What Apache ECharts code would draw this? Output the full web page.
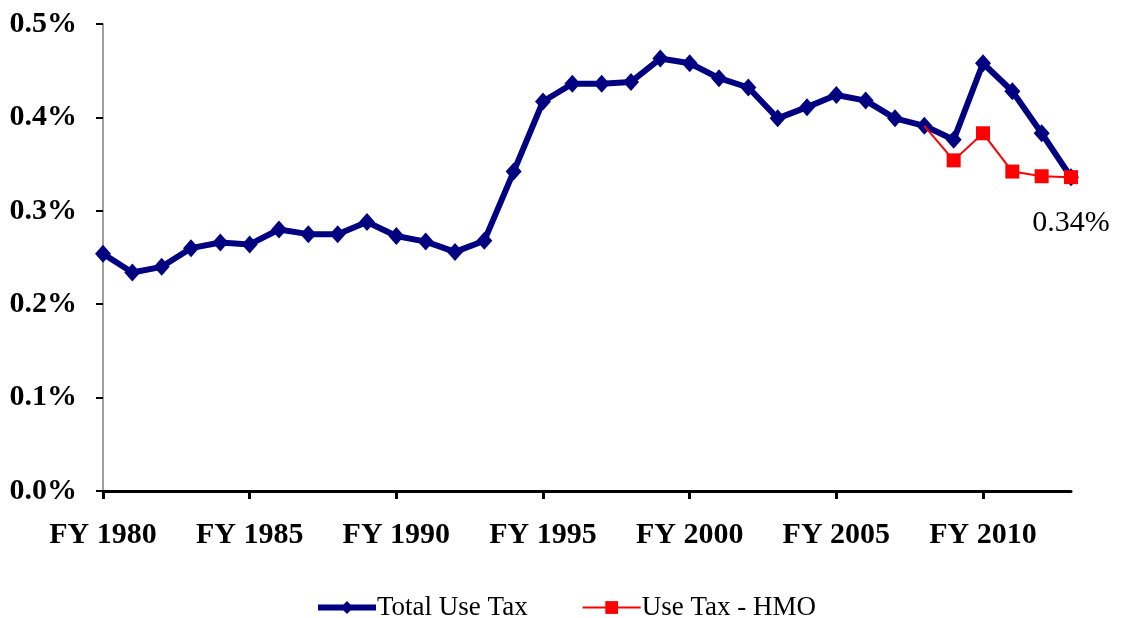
<!DOCTYPE html>
<html>
<head>
<meta charset="utf-8">
<script src="https://cdn.jsdelivr.net/npm/echarts@6/dist/echarts.min.js"></script>
<style>
  html, body { margin: 0; padding: 0; background: #fff; }
  #chart { width: 1123px; height: 618px; }
</style>
</head>
<body>
<div id="chart"></div>
<script>
// fiscal years FY 1980 .. FY 2013
const years = ['FY 1980', 'FY 1981', 'FY 1982', 'FY 1983', 'FY 1984', 'FY 1985', 'FY 1986', 'FY 1987',
  'FY 1988', 'FY 1989', 'FY 1990', 'FY 1991', 'FY 1992', 'FY 1993', 'FY 1994', 'FY 1995', 'FY 1996',
  'FY 1997', 'FY 1998', 'FY 1999', 'FY 2000', 'FY 2001', 'FY 2002', 'FY 2003', 'FY 2004', 'FY 2005',
  'FY 2006', 'FY 2007', 'FY 2008', 'FY 2009', 'FY 2010', 'FY 2011', 'FY 2012', 'FY 2013']

// values in percent
const totalUseTax = [0.254, 0.234, 0.240, 0.260, 0.266, 0.264, 0.280, 0.275, 0.275, 0.288, 0.273, 0.267,
  0.256, 0.268, 0.342, 0.417, 0.436, 0.436, 0.438, 0.463, 0.458, 0.442, 0.432, 0.399, 0.411, 0.424,
  0.418, 0.399, 0.391, 0.376, 0.458, 0.428, 0.383, 0.336]

// HMO line starts from FY 2008 total
const hmoYears = ['FY 2008', 'FY 2009', 'FY 2010', 'FY 2011', 'FY 2012', 'FY 2013']
const hmoUseTax = [0.391, 0.354, 0.383, 0.342, 0.337, 0.336]

const yTicks = [0, 0.1, 0.2, 0.3, 0.4, 0.5]
const endLabel = '0.34%'

const hmoData = years.map(function(y) {
  const i = hmoYears.indexOf(y)
  if (i < 0) return null
  if (i === 0) return { value: hmoUseTax[i], symbol: 'none' }
  if (i === hmoYears.length - 1) {
    return {
      value: hmoUseTax[i],
      label: {
        show: true,
        position: 'bottom',
        distance: 24,
        formatter: endLabel,
        color: '#000',
        fontFamily: 'Liberation Serif',
        fontSize: 30
      }
    }
  }
  return hmoUseTax[i]
})

const chart = echarts.init(document.getElementById('chart'))
const option = {
  animation: false,
  backgroundColor: '#fff',
  grid: {
    left: 103,
    right: 52,
    top: 24,
    bottom: 127,
    containLabel: false
  },
  legend: {
    left: 310,
    top: 589,
    itemWidth: 58,
    itemHeight: 16,
    itemGap: 54,
    textStyle: {
      fontFamily: 'Liberation Serif',
      fontSize: 27,
      color: '#000',
      padding: [0, 0, 0, -4]
    },
    data: [
      { name: 'Total Use Tax', lineStyle: { width: 6 } },
      { name: 'Use Tax - HMO', lineStyle: { width: 2 } }
    ]
  },
  xAxis: {
    type: 'category',
    data: years,
    boundaryGap: false,
    axisLine: {
      show: true,
      lineStyle: { color: '#000', width: 3 }
    },
    axisTick: {
      show: true,
      interval: 4,
      length: 8,
      lineStyle: { color: '#000', width: 3 }
    },
    axisLabel: {
      interval: 4,
      margin: 29,
      color: '#000',
      fontFamily: 'Liberation Serif',
      fontWeight: 'bold',
      fontSize: 30
    },
    splitLine: { show: false }
  },
  yAxis: {
    type: 'value',
    min: yTicks[0],
    max: yTicks[yTicks.length - 1],
    interval: 0.1,
    axisLine: {
      show: true,
      lineStyle: { color: '#808080', width: 1.5 }
    },
    axisTick: {
      show: true,
      length: 7,
      lineStyle: { color: '#000', width: 2 }
    },
    axisLabel: {
      margin: 26,
      color: '#000',
      fontFamily: 'Liberation Serif',
      fontWeight: 'bold',
      fontSize: 30,
      formatter: function(v) {
        return v.toFixed(1) + '%'
      }
    },
    splitLine: { show: false }
  },
  series: [
    {
      name: 'Total Use Tax',
      type: 'line',
      data: totalUseTax,
      symbol: 'diamond',
      symbolSize: [16, 18],
      z: 2,
      itemStyle: { color: '#000080' },
      lineStyle: { color: '#000080', width: 6 }
    },
    {
      name: 'Use Tax - HMO',
      type: 'line',
      data: hmoData,
      symbol: 'rect',
      symbolSize: 14,
      z: 3,
      itemStyle: { color: '#ff0000' },
      lineStyle: { color: '#ff0000', width: 2 }
    }
  ]
}
chart.setOption(option)
</script>
</body>
</html>
